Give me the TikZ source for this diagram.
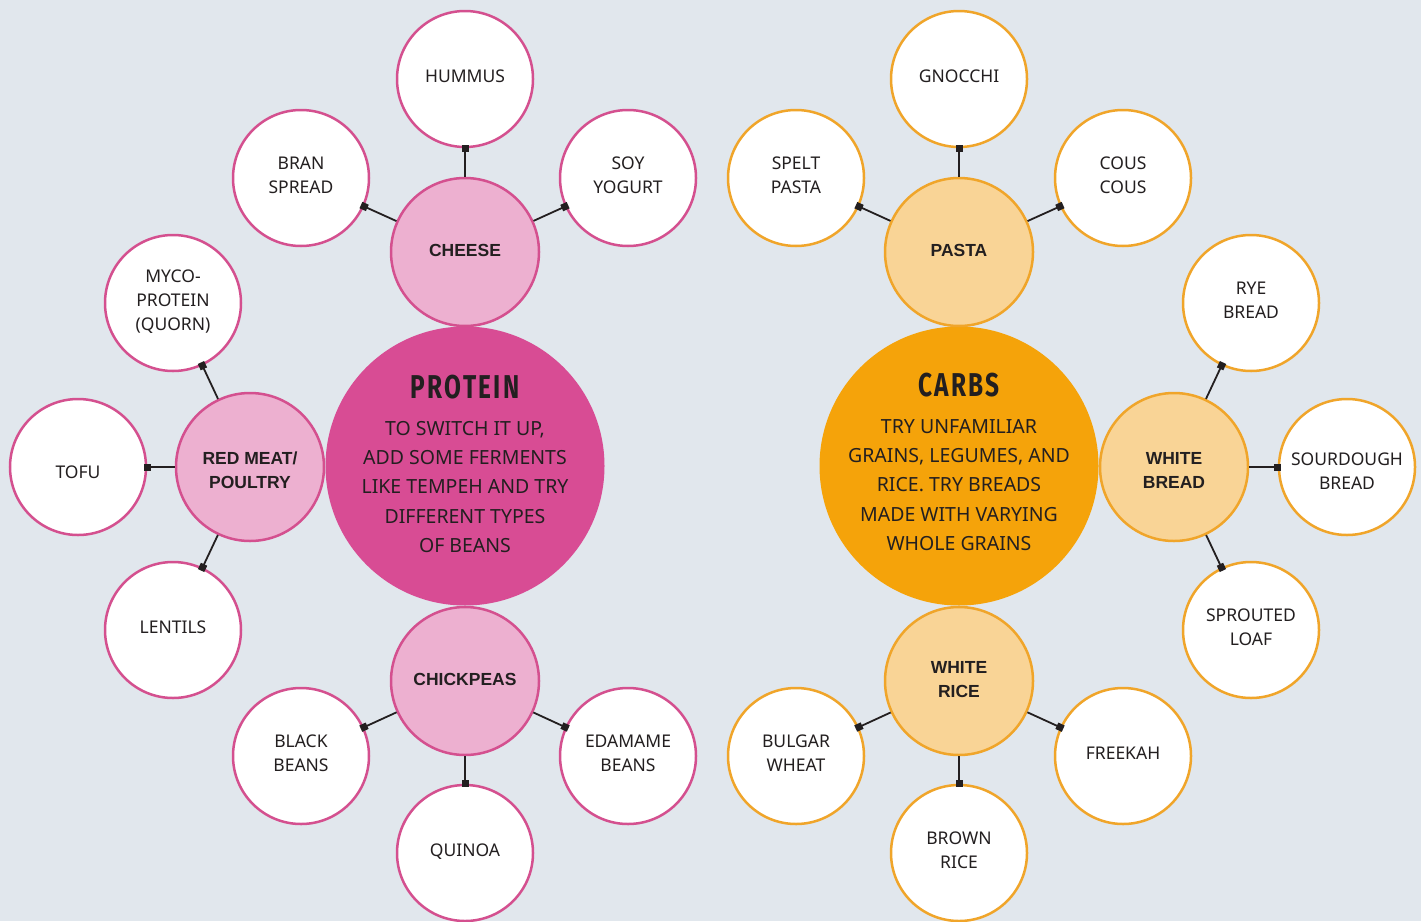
\documentclass[tikz,border=0pt]{standalone}
\usepackage{fontspec}
\setmainfont{Noto Sans}
\newfontfamily\boldsans{Liberation Sans}
\newfontfamily\titlefont[FakeStretch=0.74,LetterSpace=7]{Fira Sans}
\usetikzlibrary{arrows.meta}
\definecolor{bg}{HTML}{E1E7ED}
\definecolor{txt}{HTML}{231F20}
\definecolor{pinkdark}{HTML}{D84C94}
\definecolor{pinkborder}{HTML}{D4508F}
\definecolor{pinklight}{HTML}{EDB0D0}
\definecolor{orangedark}{HTML}{F5A30A}
\definecolor{orangelight}{HTML}{F9D496}
\definecolor{orangeborder}{HTML}{F0A52A}
\begin{document}
\begin{tikzpicture}[x=1pt,y=-1pt,
  big/.style={circle, minimum size=279pt, inner sep=0pt},
  mid/.style={circle, minimum size=148pt, draw, line width=2.5pt, inner sep=0pt, align=center, text=txt, text depth=4pt, font=\boldsans\bfseries\fontsize{17.5}{24}\selectfont},
  outer/.style={circle, minimum size=136pt, fill=white, draw, line width=2.5pt, inner sep=0pt, align=center, text=txt, text depth=6pt, font=\fontsize{17.5}{24}\selectfont},
  ptitle/.style={text=txt, font=\titlefont\bfseries\fontsize{33}{33}\selectfont},
  pbody/.style={text=txt, align=center, font=\fontsize{19.5}{29.3}\selectfont},
  link/.style={draw=txt, line width=1.8pt, shorten >=-3.5pt, -{Square[length=7pt,width=7pt]}}]
\fill[bg] (0,0) rectangle (1421,921);
\useasboundingbox (0,0) rectangle (1421,921);

% big circles
\node[big, fill=pinkdark] (protein) at (465,466) {};
\node[big, fill=orangedark] (carbs) at (959,466) {};
\node[ptitle] (proteintitle) at (465,387) {PROTEIN};
\node[pbody] (proteinbody) at (465,487) {TO SWITCH IT UP,\\ADD SOME FERMENTS\\LIKE TEMPEH AND TRY\\DIFFERENT TYPES\\OF BEANS};
\node[ptitle] (carbstitle) at (959,385) {CARBS};
\node[pbody] (carbsbody) at (959,485) {TRY UNFAMILIAR\\GRAINS, LEGUMES, AND\\RICE. TRY BREADS\\MADE WITH VARYING\\WHOLE GRAINS};

% mid circles
\node[mid, fill=pinklight, draw=pinkborder] (cheese) at (465,252) {CHEESE};
\node[mid, fill=pinklight, draw=pinkborder, text depth=0pt, text height=42.5pt] (redmeat) at (250,467) {RED MEAT/\\POULTRY};
\node[mid, fill=pinklight, draw=pinkborder] (chickpeas) at (465,681) {CHICKPEAS};
\node[mid, fill=orangelight, draw=orangeborder] (pasta) at (959,252) {PASTA};
\node[mid, fill=orangelight, draw=orangeborder, text depth=0pt, text height=42.5pt] (whitebread) at (1174,467) {WHITE\\BREAD};
\node[mid, fill=orangelight, draw=orangeborder] (whiterice) at (959,681) {WHITE\\RICE};

% outer circles - protein
\node[outer, draw=pinkborder] (hummus) at (465,79) {HUMMUS};
\node[outer, draw=pinkborder] (bran) at (301,178) {BRAN\\SPREAD};
\node[outer, draw=pinkborder] (soy) at (628,178) {SOY\\YOGURT};
\node[outer, draw=pinkborder] (myco) at (173,303) {MYCO-\\PROTEIN\\(QUORN)};
\node[outer, draw=pinkborder, text depth=0pt, text height=22.5pt] (tofu) at (78,467) {TOFU};
\node[outer, draw=pinkborder] (lentils) at (173,630) {LENTILS};
\node[outer, draw=pinkborder] (blackbeans) at (301,756) {BLACK\\BEANS};
\node[outer, draw=pinkborder] (edamame) at (628,756) {EDAMAME\\BEANS};
\node[outer, draw=pinkborder] (quinoa) at (465,853) {QUINOA};

% outer circles - carbs
\node[outer, draw=orangeborder] (gnocchi) at (959,79) {GNOCCHI};
\node[outer, draw=orangeborder] (spelt) at (796,178) {SPELT\\PASTA};
\node[outer, draw=orangeborder] (cous) at (1123,178) {COUS\\COUS};
\node[outer, draw=orangeborder] (rye) at (1251,303) {RYE\\BREAD};
\node[outer, draw=orangeborder, text depth=0pt, text height=44.5pt] (sourdough) at (1347,467) {SOURDOUGH\\BREAD};
\node[outer, draw=orangeborder] (sprouted) at (1251,630) {SPROUTED\\LOAF};
\node[outer, draw=orangeborder] (bulgar) at (796,756) {BULGAR\\WHEAT};
\node[outer, draw=orangeborder] (freekah) at (1123,756) {FREEKAH};
\node[outer, draw=orangeborder] (brownrice) at (959,853) {BROWN\\RICE};

% connectors
\foreach \a/\b in {cheese/hummus, cheese/bran, cheese/soy,
  redmeat/myco, redmeat/tofu, redmeat/lentils,
  chickpeas/blackbeans, chickpeas/edamame, chickpeas/quinoa,
  pasta/gnocchi, pasta/spelt, pasta/cous,
  whitebread/rye, whitebread/sourdough, whitebread/sprouted,
  whiterice/bulgar, whiterice/freekah, whiterice/brownrice}
  \draw[link] (\a) -- (\b);
\end{tikzpicture}
\end{document}
